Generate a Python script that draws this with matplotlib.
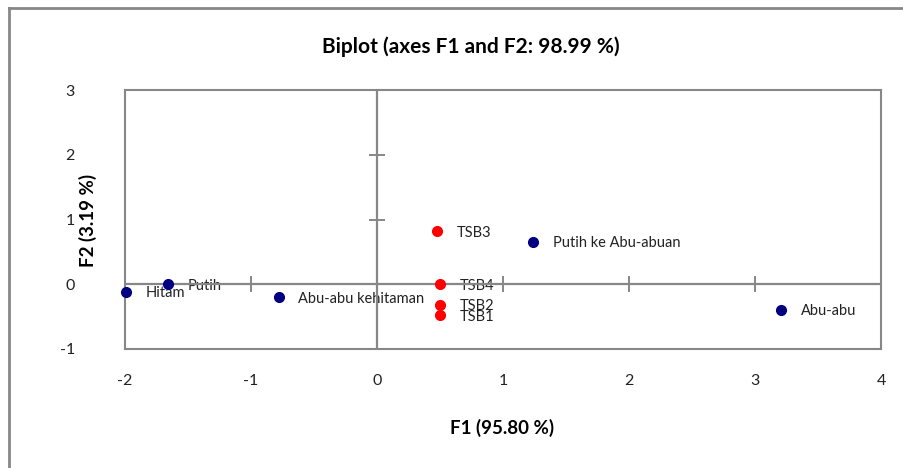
import matplotlib
matplotlib.use('Agg')
import matplotlib.pyplot as plt
from matplotlib.lines import Line2D

plt.rcParams['font.family'] = ['Lato', 'DejaVu Sans']

# data
obs_names = ['TSB1', 'TSB2', 'TSB3', 'TSB4']
obs_f1 = [0.50, 0.50, 0.48, 0.50]
obs_f2 = [-0.48, -0.32, 0.82, 0.00]

var_names = ['Putih', 'Hitam', 'Abu-abu', 'Abu-abu kehitaman', 'Putih ke Abu-abuan']
var_f1 = [-1.66, -1.99, 3.21, -0.78, 1.24]
var_f2 = [0.00, -0.12, -0.39, -0.20, 0.66]

xticks = [-2, -1, 0, 1, 2, 3, 4]
yticks = [-1, 0, 1, 2, 3]

grey = '#878787'

fig = plt.figure(figsize=(9.04, 4.68), dpi=100)
ax = fig.add_axes([125 / 904, 1 - 349 / 468, 756 / 904, 259 / 468])

# outer chart border (only top and left visible)
fig.add_artist(Line2D([9 / 904, 1.0], [1 - 8 / 468] * 2, color=grey, lw=2))
fig.add_artist(Line2D([9 / 904] * 2, [0.0, 1 - 8 / 468], color=grey, lw=2))

ax.set_xlim(-2, 4)
ax.set_ylim(-1, 3)
for s in ax.spines.values():
    s.set_color(grey)
    s.set_linewidth(1.5)

ax.set_xticks(xticks)
ax.set_yticks(yticks)
ax.set_xticklabels([str(t) for t in xticks])
ax.set_yticklabels([str(t) for t in yticks])
ax.tick_params(axis='x', length=0, pad=18, labelsize=11.5, colors='#222222')
ax.tick_params(axis='y', length=0, pad=36, labelsize=11.5, colors='#222222')

# axes through origin with crossing ticks
ax.axhline(0, color=grey, lw=1.6, zorder=4)
ax.axvline(0, color=grey, lw=1.6, zorder=4)
xt = [t for t in xticks if t not in (0, xticks[0], xticks[-1])]
yt = [t for t in yticks if t not in (0, yticks[0], yticks[-1])]
ax.plot(xt, [0] * len(xt), ls='none', marker='|', ms=11, mew=1.4, color=grey, zorder=4)
ax.plot([0] * len(yt), yt, ls='none', marker='_', ms=11, mew=1.4, color=grey, zorder=4)

ax.plot(var_f1, var_f2, 'o', color='#000080', ms=7, zorder=5, clip_on=False)
ax.plot(obs_f1, obs_f2, 'o', color='#ff0000', ms=7, zorder=5, clip_on=False)

for n, x, y in zip(var_names + obs_names, var_f1 + obs_f1, var_f2 + obs_f2):
    ax.annotate(n, (x, y), xytext=(14, -1), textcoords='offset points',
                ha='left', va='center', fontsize=10.5, color='#222222', zorder=3)

fig.text(471 / 904, 1 - 47 / 468, 'Biplot (axes F1 and F2: 98.99 %)',
         ha='center', va='center', fontsize=15, fontweight='bold')
fig.text(502 / 904, 1 - 428 / 468, 'F1 (95.80 %)',
         ha='center', va='center', fontsize=13.5, fontweight='bold')
fig.text(88 / 904, 1 - 220 / 468, 'F2 (3.19 %)', rotation=90,
         ha='center', va='center', fontsize=13.5, fontweight='bold')

fig.savefig('out.png', dpi=100)
